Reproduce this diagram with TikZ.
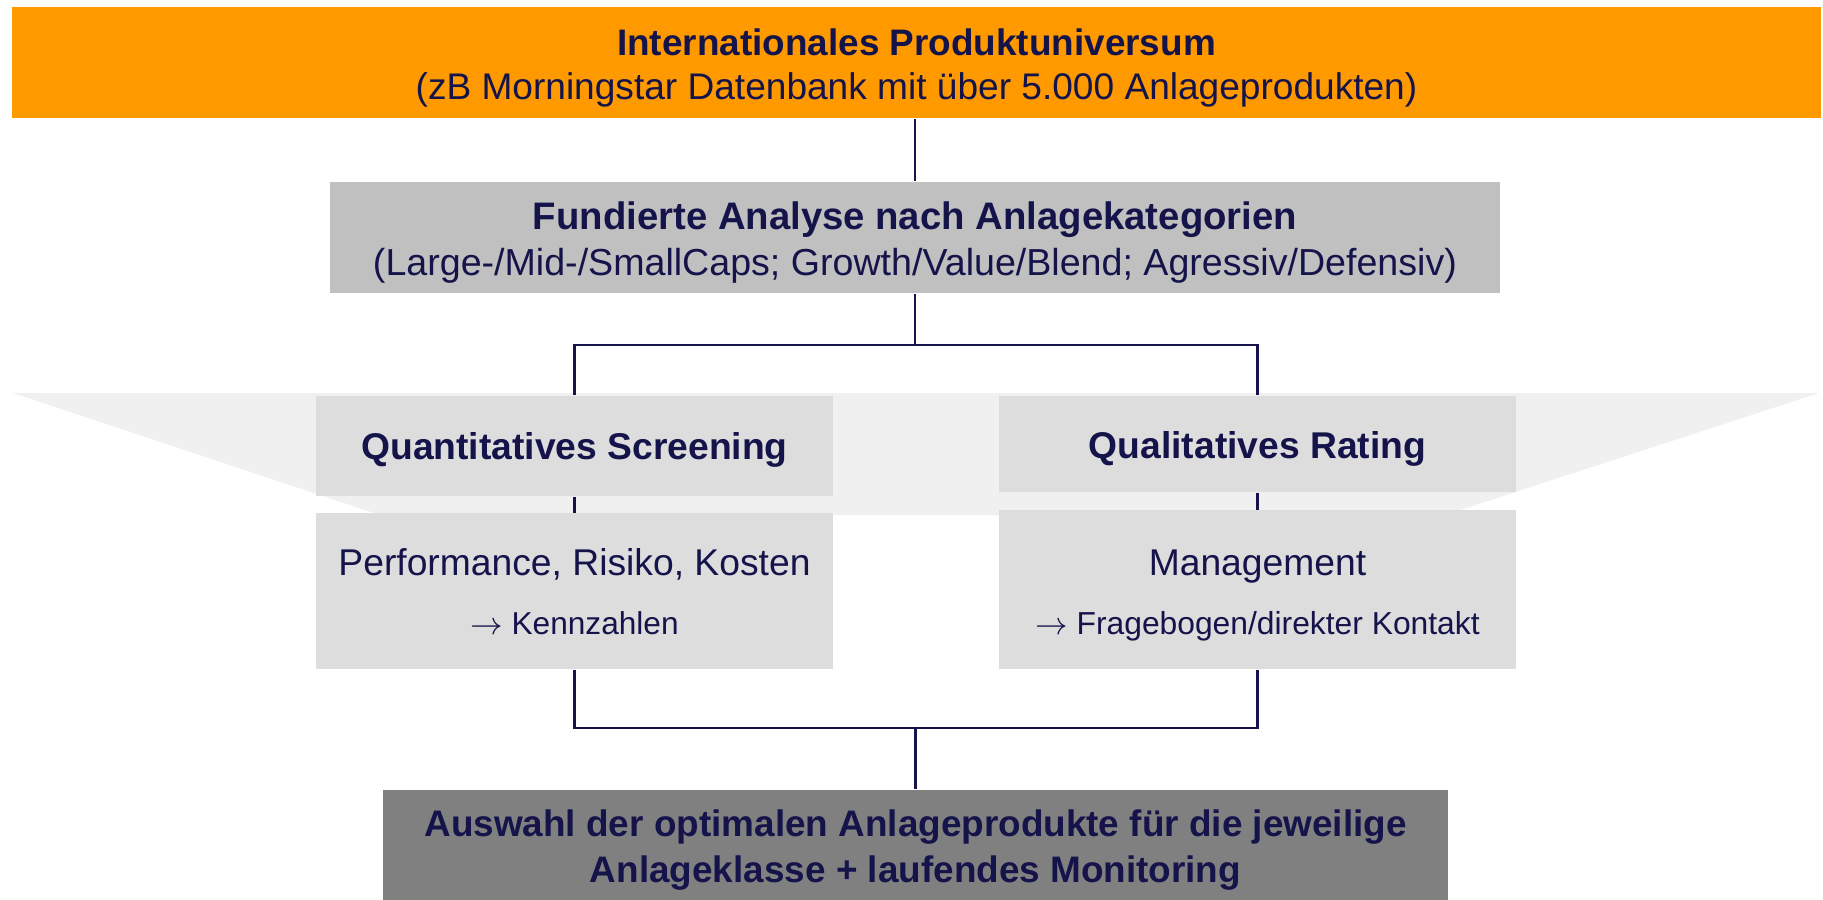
\documentclass[tikz,border=0pt]{standalone}
\usepackage{fontspec}
\setmainfont{Liberation Sans}
\usepackage{xcolor}
\usepackage{tikz}
\usetikzlibrary{positioning,calc}
\definecolor{navy}{RGB}{20,20,75}
\definecolor{boxorange}{RGB}{255,153,0}
\definecolor{boxmid}{RGB}{192,192,192}
\definecolor{boxlight}{RGB}{221,221,221}
\definecolor{boxdark}{RGB}{128,128,128}
\definecolor{funnelfill}{RGB}{240,240,240}
\newcommand{\topgap}[1]{\rule{0pt}{#1}}

\begin{document}
\begin{tikzpicture}[auto,
    box/.style={rectangle, inner sep=0pt, align=center, text=navy},
    link/.style={draw=navy, line width=0.6pt}]
    \useasboundingbox (0,0) rectangle (18.23,-9.00);
    \fill[funnelfill] (0.13,-3.93) -- (18.19,-3.93) -- (14.45,-5.15) -- (3.80,-5.15) -- cycle;
    \node (universe) [box, fill=boxorange, minimum width=18.09cm, minimum height=1.11cm, font=\fontsize{10.55}{12.4}\selectfont] at (9.165,-0.625) {{\bfseries\fontsize{10.5}{12.4}\selectfont\topgap{10.6pt}Internationales Produktuniversum}\\(zB Morningstar Datenbank mit über 5.000 Anlageprodukten)};
    \node (analysis) [box, fill=boxmid, minimum width=11.70cm, minimum height=1.11cm, font=\fontsize{10.7}{12.97}\selectfont] at (9.15,-2.375) {{\bfseries\fontsize{10.9}{12.97}\selectfont\topgap{10.8pt}Fundierte Analyse nach Anlagekategorien}\\(Large-/Mid-/SmallCaps; Growth/Value/Blend; Agressiv/Defensiv)};
    \node (quant) [box, fill=boxlight, minimum width=5.17cm, minimum height=1.00cm, text height=10.2pt, text depth=2.3pt, font=\bfseries\fontsize{10.6}{12.6}\selectfont] at (5.745,-4.46) {Quantitatives Screening};
    \node (perf) [box, fill=boxlight, minimum width=5.17cm, minimum height=1.56cm, font=\fontsize{10.6}{16.8}\selectfont, below=0.16cm of quant] {Performance, Risiko, Kosten\\{\fontsize{9.0}{10}\selectfont $\rightarrow$ Kennzahlen}};
    \node (qual) [box, fill=boxlight, minimum width=5.17cm, minimum height=0.96cm, text height=10.5pt, text depth=2.3pt, font=\bfseries\fontsize{10.6}{12.6}\selectfont] at (12.575,-4.44) {Qualitatives Rating};
    \node (mgmt) [box, fill=boxlight, minimum width=5.17cm, minimum height=1.59cm, font=\fontsize{10.6}{16.8}\selectfont, below=0.17cm of qual] {\topgap{10.5pt}Management\\{\fontsize{9.05}{10}\selectfont $\rightarrow$ Fragebogen/direkter Kontakt}};
    \node (result) [box, fill=boxdark, minimum width=10.65cm, minimum height=1.20cm, font=\bfseries\fontsize{10.5}{13.3}\selectfont] at (9.155,-8.50) {Auswahl der optimalen Anlageprodukte für die jeweilige\\Anlageklasse + laufendes Monitoring};
    \coordinate (split) at ($(analysis.south)+(0,-0.51)$);
    \coordinate (join) at ($(result.north)+(0,0.61)$);
    \draw[link] (analysis.north) -- (analysis.north |- universe.south);
    \draw[link] (analysis.south) -- (split) -| (quant.north);
    \draw[link] (split) -| (qual.north);
    \draw[link] (quant) -- (perf);
    \draw[link] (qual) -- (mgmt);
    \draw[link] (perf.south) |- (join) -- (result.north);
    \draw[link] (mgmt.south) |- (join);
\end{tikzpicture}
\end{document}
